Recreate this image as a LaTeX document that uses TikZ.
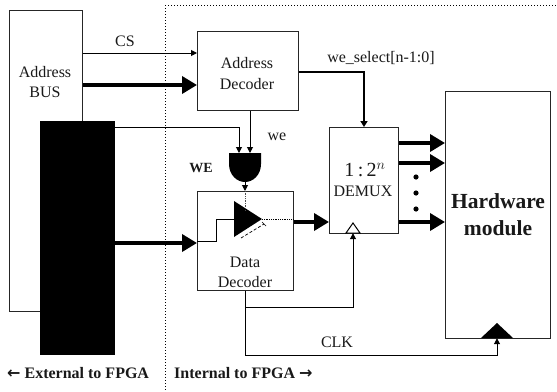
\documentclass[tikz,border=0pt]{standalone}
\usepackage{fontspec}
\setmainfont{Liberation Serif}
\newfontfamily\arrowfont{DejaVu Sans}
\usetikzlibrary{arrows.meta,calc}
\tikzset{
  box/.style={draw=black!85,line width=0.8pt,fill=white,inner sep=0pt,anchor=north west},
  lbl/.style={font=\fontsize{16}{17}\selectfont,inner sep=0pt,text=black!90},
  thin link/.style={draw=black,line width=1pt},
  thin arrow/.style={thin link,-{Triangle[length=6pt,width=6pt]}},
  bus/.style={draw=black,line width=3.6pt,-{Triangle[length=15pt,width=17pt]}},
  mid link/.style={draw=black,line width=2.6pt,-{Triangle[length=6pt,width=7pt]}},
  pin/.style={inner sep=0pt,minimum size=0pt},
}
\begin{document}
\begin{tikzpicture}[x=1pt,y=-1pt]
\useasboundingbox (0,0) rectangle (557,391);
% boundary
\draw[black,line width=1pt,dotted] (165,5) -- (557,5);
\draw[black,line width=1pt,dotted] (165,5) -- (165,391);
% boxes
\node[box,minimum width=73pt,minimum height=301pt] (abus) at (9,10) {};
\node[fill=black,draw=black,inner sep=0pt,anchor=north west,minimum width=74pt,minimum height=233pt] (ext) at (40,121) {};
\node[box,minimum width=101pt,minimum height=79pt] (adec) at (197,31) {};
\node[box,minimum width=96pt,minimum height=99pt] (ddec) at (197,191) {};
\node[box,minimum width=69pt,minimum height=106pt] (demux) at (329,127) {};
\node[box,minimum width=105pt,minimum height=247pt] (hw) at (445,91) {};
% AND gate
\node[pin,minimum width=32pt,minimum height=29pt] (andg) at (245,167.5) {};
\fill[black] (229,153) -- (261,153) -- (261,164) .. controls (261,175) and (253,182) .. (245,182) .. controls (237,182) and (229,175) .. (229,164) -- cycle;
% tri-state buffer
\node[pin,minimum width=28pt,minimum height=36pt] (buf) at (248,219) {};
\fill[black] (234,201) -- (262,219) -- (234,237) -- cycle;
% clock triangles
\node[pin,minimum width=14pt,minimum height=10pt] (dclk) at (353,228) {};
\draw[black,line width=1pt,fill=white] (346,233) -- (353,223) -- (360,233) -- cycle;
\node[pin,minimum width=32pt,minimum height=15pt] (hclk) at (497,330.5) {};
\fill[black] (481,338) -- (497,323) -- (513,338) -- cycle;
% connectors
\draw[thin arrow] (abus.east |- 0,53) -- (adec.west |- 0,53);
\draw[bus] (abus.east |- 0,85) -- (adec.west |- 0,85);
\draw[thin arrow] (ext.east |- 0,127) -- (239,127) -- (239,153);
\draw[thin arrow] (adec.south -| 250,0) -- (250,153);
\draw[thin arrow] (andg.south) -- (245,191);
\draw[black!70,line width=0.7pt,densely dotted] (ddec.north -| 245,0) -- (245,210);
\draw[bus] (ext.east |- 0,243) -- (ddec.west |- 0,243);
\draw[black,line width=1pt] (ddec.west |- 0,241) -- (216,241) -- (216,219) -- (234,219);
\draw[black,line width=0.8pt,densely dotted] (262,219) -- (ddec.east |- 0,219);
\draw[black,line width=0.7pt,densely dashed] (241,238) -- (264,224);
\draw[black,line width=0.7pt] (262,222) -- (266,226);
\draw[bus] (ddec.east |- 0,222) -- (demux.west |- 0,222);
\draw[mid link] (adec.east |- 0,72) -- (364,72) -- (364,127);
\draw[bus] (demux.east |- 0,143) -- (hw.west |- 0,143);
\draw[bus] (demux.east |- 0,163) -- (hw.west |- 0,163);
\draw[bus] (demux.east |- 0,222) -- (hw.west |- 0,222);
\draw[thin arrow] (ddec.south -| 245,0) -- (245,307) -- (353,307) -- (dclk.south);
\draw[thin arrow] (ddec.south -| 245,0) -- (245,355) -- (497,355) -- (hclk.south);
% dots
\foreach \yy in {177,193,209} \fill[black] (416,\yy) circle (2.6pt);
% labels
\node[lbl] (tcs) at (125,41) {CS};
\node[lbl] (tab) at (45,72) {Address};
\node[lbl] (tbus) at (45,92) {BUS};
\node[lbl] (tad) at (247,63) {Address};
\node[lbl] (tdc) at (247,84) {Decoder};
\node[lbl] (twe) at (277,137) {we};
\node[lbl,font=\fontsize{14}{15}\selectfont\bfseries] (tWE) at (201,168) {WE};
\node[lbl] (tsel) at (381,58) {we\_select[n-1:0]};
\node[lbl,font=\fontsize{20}{21}\selectfont] (tn) at (365,170) {1\,:\,2$^{n}$};
\node[lbl] (tdm) at (363,191) {DEMUX};
\node[lbl] (tdata) at (245,262) {Data};
\node[lbl] (tdd) at (245,282) {Decoder};
\node[lbl,font=\fontsize{21.5}{23}\selectfont\bfseries] (thw) at (498,201) {Hardware};
\node[lbl,font=\fontsize{21.5}{23}\selectfont\bfseries] (tmod) at (498,228) {module};
\node[lbl] (tclk) at (337,342) {CLK};
\node[lbl,font=\fontsize{16}{17}\selectfont\bfseries,anchor=west] (text) at (7,373) {{\arrowfont\fontsize{16}{17}\selectfont←} External to FPGA};
\node[lbl,font=\fontsize{16}{17}\selectfont\bfseries,anchor=west] (tint) at (174,373) {Internal to FPGA {\arrowfont\fontsize{16}{17}\selectfont→}};
\end{tikzpicture}
\end{document}
